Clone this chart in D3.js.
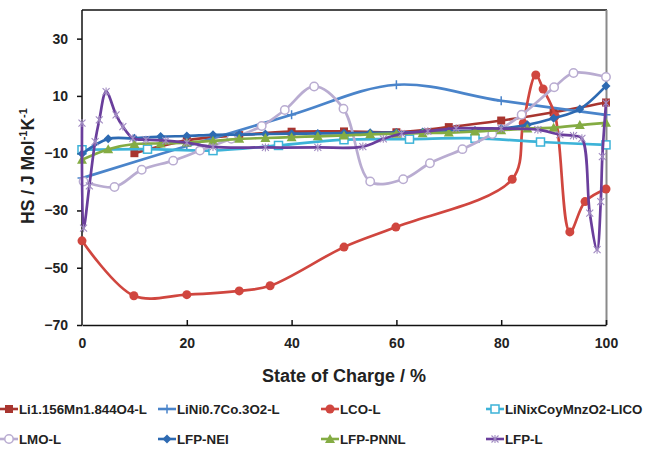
<!DOCTYPE html>
<html><head><meta charset="utf-8">
<script src="https://cdnjs.cloudflare.com/ajax/libs/d3/7.8.5/d3.min.js"></script>
<style>
html,body{margin:0;padding:0;background:#fff;}
text{font-family:"Liberation Sans",Arial,sans-serif;font-weight:bold;fill:#222;}
</style></head>
<body><svg id="c" width="650" height="451"></svg>
<script>
// ---- data ----
const xTicks = [0, 20, 40, 60, 80, 100];
const yTicks = [-70, -50, -30, -10, 10, 30];

const limnX = [10, 20, 30, 40, 50, 60, 70, 80, 90, 100];
const limnY = [-10, -5.5, -3.7, -2.5, -2.4, -2.7, -0.9, 1.4, 4.3, 7.7];

const ncaX = [0, 20, 40, 60, 80, 100];
const ncaY = [-18.7, -7.5, 3.4, 13.9, 8.3, 3.4];

const lcoX = [0, 9.9, 20, 30, 35.9, 50, 59.9, 82.1, 84.2, 86.6, 88, 90.3, 93.1, 96, 100];
const lcoY = [-40.6, -59.8, -59.4, -58.1, -56.3, -42.8, -35.8, -19.1, 0.5, 17.3, 12.4, 3, -37.5, -26.9, -22.5];

const nmcX = [0, 12.5, 25, 37.5, 50, 62.5, 75, 87.5, 100];
const nmcY = [-8.8, -8.6, -9.1, -7.3, -5.3, -5.1, -4.8, -6.1, -7.1];

const lmoX = [0.3, 6.2, 11.4, 17.4, 22.5, 28.5, 34.3, 38.7, 44.3, 49.9, 55, 61.3, 66.4, 72.6, 78.3, 83.9, 90.1, 93.8, 100];
const lmoY = [-19.9, -21.8, -15.8, -12.6, -9.1, -5, -0.5, 5.1, 13.3, 5.5, -19.9, -19.1, -13.5, -8.6, -3.3, 3.4, 13, 18, 16.6];

const neiX = [0, 5, 10, 15, 20, 25, 30, 35, 40, 45, 50, 55, 60, 65, 70, 75, 80, 85, 90, 95, 100];
const neiY = [-10.2, -5, -4.8, -4.2, -4, -3.6, -3.5, -3.3, -3.2, -3.1, -3, -2.9, -2.8, -2.6, -2.4, -2.1, -1.4, -0.1, 2.2, 5.4, 13.5];

const pnnlX = [0, 5, 10, 15, 20, 25, 30, 35, 40, 45, 50, 55, 60, 65, 70, 75, 80, 85, 90, 95, 100];
const pnnlY = [-12.3, -8.6, -6.8, -6.6, -6.3, -5.7, -5, -4.7, -4.4, -4.1, -3.8, -3.4, -3.2, -3, -2.8, -2.4, -2, -1.4, -1.1, -0.2, 0.6];

const lfpX = [0, 0.3, 1.4, 2.5, 3.3, 4.6, 6.5, 7.8, 9.7, 12.2, 16, 20, 25, 35, 45, 53.6, 57.5, 61, 66, 71.4, 80, 87, 91.2, 93.8, 95.4, 96.9, 98.3, 99, 99.3, 100];
const lfpY = [0.5, -36.2, -21.4, -6, 1.6, 11.5, 3.4, -0.7, -4.8, -5.3, -5.6, -6.3, -7.8, -8, -8, -7.7, -5, -3.2, -2.3, -1.3, -1.4, -1.8, -3.5, -3.9, -4.8, -30.9, -43.7, -26.9, -11.2, 7.5];

const seriesNames = ["Li1.156Mn1.844O4-L", "LiNi0.7Co.3O2-L", "LCO-L", "LiNixCoyMnzO2-LICO",
                     "LMO-L", "LFP-NEI", "LFP-PNNL", "LFP-L"];
const seriesX = [limnX, ncaX, lcoX, nmcX, lmoX, neiX, pnnlX, lfpX];
const seriesY = [limnY, ncaY, lcoY, nmcY, lmoY, neiY, pnnlY, lfpY];
const colors = ["#A8352F", "#4A84CA", "#D0463F", "#3DB3D8", "#B9ACD1", "#2D6AB2", "#84AC43", "#6A3E9C"];
const markerColors = ["#A8352F", "#4A84CA", "#D0463F", "#3DB3D8", "#B9ACD1", "#2D6AB2", "#84AC43", "#A18BC2"];
const markers = ["square", "plus", "circle", "osquare", "ocircle", "diamond", "triangle", "star"];

// ---- layout ----
const svg = d3.select("#c");
const X0 = 82, X1 = 606, Y0 = 10, Y1 = 325;
const x = d3.scaleLinear().domain([0, 100]).range([X0, X1]);
const y = d3.scaleLinear().domain([-70, 40]).range([Y1, Y0]);

// frame (top black, right gray)
svg.append("line").attr("x1", X0).attr("x2", X1 + 1).attr("y1", Y0).attr("y2", Y0)
  .attr("stroke", "#111").attr("stroke-width", 1.5);
svg.append("line").attr("x1", X1 + 0.5).attr("x2", X1 + 0.5).attr("y1", Y0).attr("y2", Y1)
  .attr("stroke", "#8a8a8a").attr("stroke-width", 2);

// axes
const gy = svg.append("g").attr("transform", `translate(${X0},0)`)
  .call(d3.axisLeft(y).tickValues(yTicks).tickSize(5).tickPadding(9).tickFormat(d3.format("d")));
const gx = svg.append("g").attr("transform", `translate(0,${Y1})`)
  .call(d3.axisBottom(x).tickValues(xTicks).tickSizeInner(-5).tickSizeOuter(0).tickPadding(13));
[gx, gy].forEach(g => {
  g.select(".domain").attr("stroke", "#111").attr("stroke-width", 1.5);
  g.selectAll(".tick line").attr("stroke", "#111").attr("stroke-width", 1.5);
  g.selectAll(".tick text").attr("font-size", 14).attr("font-weight", "bold")
    .attr("font-family", "Liberation Sans, Arial, sans-serif").attr("fill", "#222");
});
gy.select(".domain").attr("d", `M0,${Y1}V${Y0}`);
gx.selectAll(".tick").filter(d => d === 0).select("line").remove();

// titles
svg.append("text").attr("x", 344).attr("y", 382).attr("text-anchor", "middle")
  .attr("font-size", 18).text("State of Charge / %");
const yt = svg.append("text").attr("transform", "translate(34,166) rotate(-90)")
  .attr("text-anchor", "middle").attr("font-size", 17.5);
yt.append("tspan").text("HS / J Mol");
yt.append("tspan").attr("font-size", 11).attr("dy", -7).text("-1");
yt.append("tspan").attr("dy", 7).text("K");
yt.append("tspan").attr("font-size", 11).attr("dy", -7).text("-1");

// marker drawing
function drawMarker(g, type, cx, cy, col, mcol) {
  switch (type) {
    case "square":
      g.append("rect").attr("x", cx - 4).attr("y", cy - 4).attr("width", 8).attr("height", 8).attr("fill", col); break;
    case "osquare":
      g.append("rect").attr("x", cx - 4).attr("y", cy - 4).attr("width", 8).attr("height", 8)
        .attr("fill", "#fff").attr("stroke", col).attr("stroke-width", 1.5); break;
    case "circle":
      g.append("circle").attr("cx", cx).attr("cy", cy).attr("r", 4.5).attr("fill", col); break;
    case "ocircle":
      g.append("circle").attr("cx", cx).attr("cy", cy).attr("r", 4.2)
        .attr("fill", "#fff").attr("stroke", col).attr("stroke-width", 1.5); break;
    case "diamond":
      g.append("path").attr("d", `M${cx},${cy - 4.5}L${cx + 4.5},${cy}L${cx},${cy + 4.5}L${cx - 4.5},${cy}Z`).attr("fill", col); break;
    case "triangle":
      g.append("path").attr("d", `M${cx},${cy - 5}L${cx + 5},${cy + 4}L${cx - 5},${cy + 4}Z`).attr("fill", col); break;
    case "plus":
      g.append("path").attr("d", `M${cx - 4.5},${cy}H${cx + 4.5}M${cx},${cy - 4.5}V${cy + 4.5}`)
        .attr("stroke", col).attr("stroke-width", 1.5); break;
    case "star":
      g.append("path").attr("d", `M${cx - 3.5},${cy - 3.5}L${cx + 3.5},${cy + 3.5}M${cx - 3.5},${cy + 3.5}L${cx + 3.5},${cy - 3.5}M${cx},${cy - 4}V${cy + 4}`)
        .attr("stroke", mcol).attr("stroke-width", 1.1); break;
  }
}

// series
const line = d3.line().x(d => x(d[0])).y(d => y(d[1])).curve(d3.curveCatmullRom.alpha(0.5));
seriesNames.forEach((name, i) => {
  const pts = seriesX[i].map((v, j) => [v, seriesY[i][j]]);
  const g = svg.append("g");
  g.append("path").attr("d", line(pts)).attr("fill", "none").attr("stroke", colors[i])
    .attr("stroke-width", 2.7).attr("stroke-linejoin", "round");
  pts.forEach(p => drawMarker(g, markers[i], x(p[0]), y(p[1]), colors[i], markerColors[i]));
});

// legend
const colX = [0, 158, 321, 486];
const rowY = [409, 439];
seriesNames.forEach((name, i) => {
  const lx = colX[i % 4], ly = rowY[Math.floor(i / 4)];
  const g = svg.append("g");
  g.append("line").attr("x1", lx).attr("x2", lx + 18).attr("y1", ly).attr("y2", ly)
    .attr("stroke", colors[i]).attr("stroke-width", 2.6);
  drawMarker(g, markers[i], lx + 9, ly, colors[i], markerColors[i]);
  g.append("text").attr("x", lx + 19).attr("y", ly + 4.5).attr("font-size", 13.3).text(name);
});
</script></body></html>
